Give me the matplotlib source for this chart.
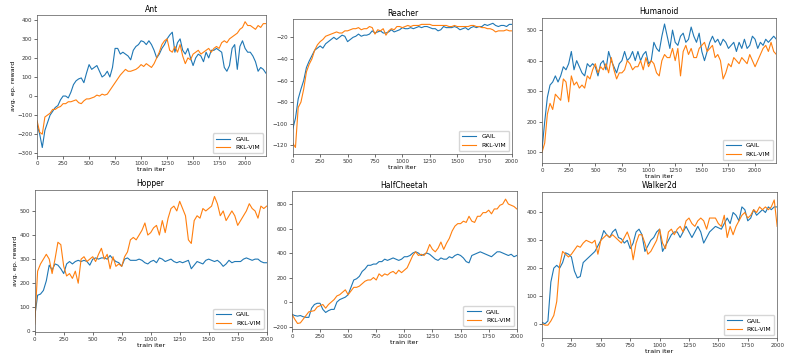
import numpy as np
import matplotlib
matplotlib.use('Agg')
import matplotlib.pyplot as plt

# valores lidos a cada 25 iteracoes
ant_gail = [-150, -200, -270, -180, -140, -100, -80, -60, -50, -20, 0, 0, -10, 20, 60, 80, 90, 95, 70, 120,
            165, 140, 150, 160, 130, 100, 110, 130, 100, 150, 250, 250, 220, 230, 220, 210, 190, 240, 260, 270,
            290, 285, 270, 290, 270, 240, 200, 220, 250, 270, 300, 320, 335, 230, 280, 300, 240, 220, 250, 200,
            160, 200, 220, 210, 180, 230, 200, 240, 240, 250, 240, 230, 150, 130, 160, 250, 270, 140, 260, 290,
            250, 230, 230, 210, 180, 130, 150, 140, 120]
ant_rkl = [-130, -190, -200, -110, -100, -90, -70, -70, -60, -55, -40, -40, -30, -30, -25, -20, -35, -40, -25, -15,
           -15, -10, -5, 5, 0, 10, 5, 10, 30, 50, 70, 90, 110, 125, 140, 130, 130, 135, 140, 150,
           165, 155, 170, 160, 150, 170, 200, 230, 270, 290, 300, 240, 230, 260, 230, 270, 210, 170, 200, 190,
           220, 230, 240, 220, 230, 240, 250, 230, 250, 260, 250, 280, 290, 280, 300, 310, 320, 330, 350, 360,
           390, 370, 370, 360, 350, 370, 360, 380, 380]

reacher_gail = [-105, -95, -77, -68, -60, -48, -42, -37, -32, -30, -28, -30, -26, -24, -22, -20, -22, -20, -18, -19,
                -24, -22, -20, -19, -17, -19, -18, -18, -17, -14, -16, -15, -14, -16, -16, -15, -13, -15, -14, -13,
                -11, -12, -12, -11, -12, -11, -10, -11, -10, -10, -11, -12, -12, -14, -13, -10, -11, -11, -11, -10,
                -11, -13, -12, -11, -13, -11, -10, -11, -10, -10, -8, -9, -8, -7, -9, -10, -9, -9, -10, -8, -8]
reacher_rkl = [-118, -122, -85, -80, -68, -52, -45, -40, -32, -27, -24, -22, -19, -18, -17, -16, -15, -16, -16, -14,
               -14, -13, -12, -12, -11, -13, -12, -12, -10, -11, -17, -13, -14, -12, -18, -14, -12, -13, -10, -10,
               -11, -10, -9, -10, -9, -9, -9, -8, -8, -8, -8, -9, -9, -9, -9, -9, -9, -10, -10, -9,
               -10, -10, -10, -10, -10, -9, -9, -10, -10, -11, -11, -12, -12, -13, -15, -14, -14, -14, -13, -14, -14]

humanoid_gail = [110, 200, 280, 320, 330, 350, 330, 350, 380, 370, 390, 430, 370, 400, 380, 360, 350, 390, 380, 390,
                 380, 350, 390, 400, 370, 430, 400, 380, 360, 390, 400, 430, 400, 410, 430, 400, 430, 400, 420, 430,
                 390, 400, 460, 440, 430, 480, 520, 480, 440, 500, 460, 450, 480, 490, 460, 470, 510, 480, 460, 490,
                 430, 400, 430, 460, 480, 460, 470, 450, 470, 460, 440, 450, 460, 430, 460, 440, 470, 440, 450, 480,
                 470, 440, 460, 450, 470, 460, 470, 480, 470]
humanoid_rkl = [100, 130, 225, 260, 240, 290, 280, 270, 340, 330, 265, 350, 320, 330, 310, 320, 310, 350, 340, 370,
                390, 360, 380, 370, 390, 360, 410, 370, 340, 360, 360, 370, 400, 390, 370, 380, 380, 400, 370, 410,
                380, 400, 390, 360, 350, 400, 420, 410, 410, 440, 400, 440, 350, 430, 450, 420, 440, 410, 410, 440,
                450, 460, 430, 440, 450, 410, 420, 400, 340, 360, 390, 380, 410, 400, 390, 410, 400, 390, 420, 400,
                380, 400, 420, 440, 450, 430, 460, 430, 420]

hopper_gail = [60, 150, 155, 170, 210, 275, 255, 280, 275, 260, 240, 280, 290, 280, 290, 295, 290, 295, 290, 275,
               300, 305, 300, 305, 305, 300, 315, 300, 290, 285, 270, 300, 305, 295, 295, 295, 300, 295, 285, 280,
               290, 295, 285, 305, 300, 290, 295, 300, 290, 285, 290, 285, 290, 295, 260, 275, 290, 285, 280, 295,
               300, 295, 290, 295, 285, 270, 280, 295, 285, 290, 290, 290, 300, 305, 300, 295, 300, 300, 290, 285, 285]
hopper_rkl = [30, 250, 280, 300, 320, 300, 240, 300, 370, 360, 270, 230, 240, 220, 250, 200, 300, 310, 290, 300,
              310, 290, 320, 345, 300, 320, 260, 310, 270, 280, 270, 310, 330, 380, 390, 380, 400, 420, 450, 400,
              410, 430, 440, 400, 460, 410, 470, 510, 520, 500, 540, 510, 480, 380, 365, 460, 480, 470, 510, 500,
              510, 520, 560, 530, 480, 500, 460, 480, 500, 480, 440, 460, 480, 500, 530, 510, 500, 470, 520, 510, 520]

cheetah_gail = [-100, -110, -115, -110, -120, -125, -125, -50, -20, -10, -10, -60, -85, -70, -60, -60, 0, 20, 30, 40,
                60, 120, 180, 190, 210, 250, 270, 300, 300, 310, 310, 330, 330, 350, 340, 350, 360, 350, 340, 350,
                370, 370, 380, 400, 410, 400, 380, 390, 400, 390, 370, 350, 340, 360, 350, 350, 370, 360, 380, 390,
                380, 360, 330, 320, 380, 390, 400, 410, 400, 390, 380, 370, 390, 410, 410, 400, 390, 380, 390, 370, 380]
cheetah_rkl = [-100, -140, -175, -170, -140, -110, -80, -75, -70, -40, -30, -20, -50, -20, 0, 20, 50, 60, 80, 100,
               60, 90, 120, 120, 130, 150, 170, 180, 180, 200, 180, 230, 210, 230, 220, 240, 250, 230, 260, 240,
               260, 280, 330, 380, 410, 380, 390, 380, 410, 470, 430, 410, 440, 490, 430, 480, 520, 580, 620, 640,
               640, 660, 650, 700, 660, 650, 700, 700, 730, 730, 750, 720, 760, 760, 790, 800, 840, 800, 790, 780, 760]

walker_gail = [5, 0, 10, 150, 200, 210, 200, 220, 255, 250, 240, 190, 165, 170, 220, 230, 240, 250, 260, 280,
               300, 335, 320, 310, 330, 340, 310, 305, 290, 300, 270, 290, 330, 340, 320, 260, 280, 300, 310, 330,
               340, 260, 280, 300, 320, 330, 330, 310, 330, 350, 330, 310, 330, 350, 330, 290, 310, 330, 340, 350,
               345, 340, 360, 380, 360, 400, 390, 370, 420, 410, 370, 380, 410, 390, 400, 410, 400, 420, 410, 420, 420]
walker_rkl = [0, -5, -5, 10, 30, 80, 210, 260, 250, 240, 250, 265, 280, 275, 290, 300, 295, 290, 300, 250,
              300, 310, 320, 310, 320, 310, 300, 290, 310, 330, 300, 230, 290, 320, 320, 290, 250, 260, 280, 300,
              340, 290, 270, 330, 340, 320, 340, 350, 330, 370, 380, 360, 350, 370, 380, 370, 340, 380, 380, 380,
              360, 350, 390, 310, 350, 320, 350, 370, 390, 400, 380, 390, 410, 400, 420, 410, 420, 410, 420, 445, 350]

panels = [
    ('Ant', ant_gail, ant_rkl, [0.047, 0.564, 0.290, 0.394], (0, 2200), (-315, 425), True),
    ('Reacher', reacher_gail, reacher_rkl, [0.371, 0.570, 0.278, 0.377], (0, 2000), (-128, -3), False),
    ('Humanoid', humanoid_gail, humanoid_rkl, [0.687, 0.545, 0.297, 0.405], (0, 2200), (65, 540), False),
    ('Hopper', hopper_gail, hopper_rkl, [0.044, 0.073, 0.294, 0.397], (0, 2000), (-2, 588), True),
    ('HalfCheetah', cheetah_gail, cheetah_rkl, [0.370, 0.081, 0.285, 0.385], (0, 2000), (-220, 905), False),
    ('Walker2d', walker_gail, walker_rkl, [0.687, 0.056, 0.298, 0.408], (0, 2000), (-51, 474), False),
]

fig = plt.figure(figsize=(7.89, 3.58), dpi=100)

for nome, gail, rkl, pos, xl, yl, ylab in panels:
    ax = fig.add_axes(pos)
    x1 = 25 * np.arange(len(gail))
    x2 = 25 * np.arange(len(rkl))
    ax.plot(x1, gail, color='tab:blue', lw=0.8, label='GAIL')
    ax.plot(x2, rkl, color='tab:orange', lw=0.8, label='RKL-VIM')
    ax.set_xlim(xl)
    ax.set_ylim(yl)
    ax.set_xticks(np.arange(0, xl[1] + 1, 250))
    ax.set_title(nome, fontsize=5.5, pad=2.5)
    ax.set_xlabel('train iter', fontsize=4.6, labelpad=1)
    if ylab:
        ax.set_ylabel('avg. ep. reward', fontsize=4.6, labelpad=1)
    ax.tick_params(labelsize=4, length=2, pad=1.5, width=0.5, colors='#333333')
    for s in ax.spines.values():
        s.set_linewidth(0.5)
        s.set_color('#555555')
    ax.legend(loc='lower right', fontsize=4.4, handlelength=2.4, borderpad=0.5)

fig.savefig('out.png', dpi=100)
